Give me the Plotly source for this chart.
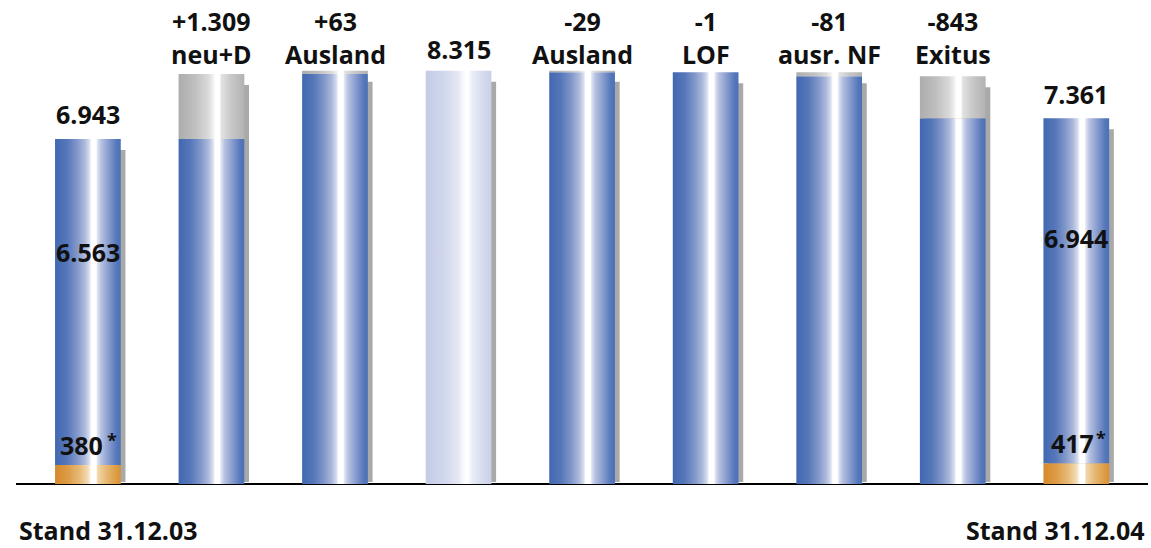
import plotly.graph_objects as go

# ---- data -------------------------------------------------------------
start_label = "Stand 31.12.03"
end_label = "Stand 31.12.04"
start_total = 6943
start_part = 380          # starred sub-group at the start
end_total = 7361
end_part = 417            # starred sub-group at the end

step_names = ["neu+D", "Ausland", None, "Ausland", "LOF", "ausr. NF", "Exitus"]
step_changes = [1309, 63, None, -29, -1, -81, -843]   # None = interim total

# ---- styling ----------------------------------------------------------
FONT = "Open Sans"
BAR_W = 0.532
PX_PER_UNIT = 0.0497              # vertical scale (pixels per value unit)
PX_PER_CAT = 123.55               # horizontal scale (pixels per category)
SHADOW_DX = 4.7 / PX_PER_CAT
SHADOW_DY = 11 / PX_PER_UNIT
SHADOW_BOTTOM = 2 / PX_PER_UNIT
SHADOW_COLOR = "#a9a9a9"

BLUE = [[0.0, "#4168b1"], [0.18, "#5677b9"], [0.33, "#7f96c9"], [0.45, "#abb8db"],
        [0.52, "#d5dcee"], [0.555, "#ffffff"], [0.625, "#ffffff"], [0.645, "#e0e5f3"],
        [0.70, "#b7c2e1"], [0.82, "#869bce"], [0.94, "#5577ba"], [1.0, "#4c71b7"]]
GREY = [[0.0, "#adadad"], [0.25, "#bfbfbf"], [0.45, "#dadada"], [0.53, "#f2f2f2"],
        [0.555, "#ffffff"], [0.625, "#ffffff"], [0.65, "#e2e2e2"], [0.8, "#c8c8c8"],
        [1.0, "#b2b2b2"]]
ORANGE = [[0.0, "#d5892b"], [0.2, "#dd9c48"], [0.38, "#e8bb7a"], [0.5, "#f3dbb4"],
          [0.555, "#ffffff"], [0.625, "#ffffff"], [0.65, "#f1d7ab"], [0.8, "#e5b46c"],
          [1.0, "#d8902f"]]
PALE = [[0.0, "#c3cbe6"], [0.3, "#d2d8ed"], [0.5, "#e6e9f5"], [0.58, "#fbfbfd"],
        [0.64, "#ffffff"], [0.7, "#eceff7"], [0.85, "#d8ddef"], [1.0, "#c8d0ea"]]


def fmt(v, signed=False):
    s = f"{abs(v):,}".replace(",", ".")
    if signed:
        return ("+" if v > 0 else "-") + s
    return s


fig = go.Figure()
shadows = []
faces = []


def add_rect(target, xc, y0, y1, colorscale=None, color=None, dx=0.0):
    x0 = xc - BAR_W / 2 + dx
    x1 = xc + BAR_W / 2 + dx
    tr = dict(x=[x0, x1, x1, x0, x0], y=[y0, y0, y1, y1, y0],
              mode="lines", fill="toself", line=dict(width=0, color="rgba(0,0,0,0)"),
              hoverinfo="skip", showlegend=False)
    if colorscale is not None:
        tr["fillgradient"] = dict(type="horizontal", colorscale=colorscale, start=x0, stop=x1)
    else:
        tr["fillcolor"] = color
    target.append(go.Scatter(**tr))


annotations = []


def label(x, y, text, yshift, xshift=0, size=25):
    annotations.append(dict(x=x, y=y, xref="x", yref="y", text=text, showarrow=False,
                            xanchor="center", yanchor="middle", yshift=yshift, xshift=xshift,
                            font=dict(family=FONT, size=size, color="#111111", weight="bold")))


def starred(x, y, value, num_dx, star_dx):
    # number plus a small raised asterisk footnote marker
    label(x, y, fmt(value), 20, xshift=num_dx)
    label(x, y, "*", 25, xshift=star_dx, size=18)


# first column: start total
idx = 0
add_rect(shadows, idx, SHADOW_BOTTOM, start_total - SHADOW_DY, color=SHADOW_COLOR, dx=SHADOW_DX)
add_rect(faces, idx, 0, start_part, ORANGE)
add_rect(faces, idx, start_part, start_total, BLUE)
label(idx, start_total, fmt(start_total), 24.5)
label(idx, start_total * 2 / 3, fmt(start_total - start_part), 2)
starred(idx, start_part, start_part, -6, 24)

# intermediate steps
running = start_total
peak = start_total
for name, ch in zip(step_names, step_changes):
    if ch is not None:
        running += ch
        peak = max(peak, running)
running = start_total
for i, (name, ch) in enumerate(zip(step_names, step_changes)):
    idx = i + 1
    if ch is None:
        top = running
        add_rect(shadows, idx, SHADOW_BOTTOM, top - SHADOW_DY, color=SHADOW_COLOR, dx=SHADOW_DX)
        add_rect(faces, idx, 0, top, PALE)
        label(idx, peak, fmt(top), 22)
        continue
    new = running + ch
    low, high = min(running, new), max(running, new)
    add_rect(shadows, idx, SHADOW_BOTTOM, high - SHADOW_DY, color=SHADOW_COLOR, dx=SHADOW_DX)
    add_rect(faces, idx, 0, low, BLUE)
    add_rect(faces, idx, low, high, GREY)
    label(idx, peak, fmt(ch, signed=True) + "<br>" + name, 33)
    running = new

# last column: end total
idx = len(step_names) + 1
add_rect(shadows, idx, SHADOW_BOTTOM, end_total - SHADOW_DY, color=SHADOW_COLOR, dx=SHADOW_DX)
add_rect(faces, idx, 0, end_part, ORANGE)
add_rect(faces, idx, end_part, end_total, BLUE)
label(idx, end_total, fmt(end_total), 24.5)
label(idx, end_total * 2 / 3, fmt(end_total - end_part), 2)
starred(idx, end_part, end_part, -4, 25)

# date captions below the axis
label(0, 0, start_label, -46, xshift=21)
label(idx, 0, end_label, -46, xshift=-21)

for t in shadows + faces:
    fig.add_trace(t)

W, H = 1151, 548
ML, MR = 16, 3
first_px = 87.9
x_lo = (ML - first_px) / PX_PER_CAT
x_hi = (W - MR - first_px) / PX_PER_CAT
base_px = 484
y_lo = -(H - base_px) / PX_PER_UNIT
y_hi = base_px / PX_PER_UNIT

fig.update_layout(
    width=W, height=H,
    margin=dict(l=ML, r=MR, t=0, b=0),
    paper_bgcolor="white", plot_bgcolor="white",
    xaxis=dict(range=[x_lo, x_hi], visible=False, fixedrange=True),
    yaxis=dict(range=[y_lo, y_hi], showgrid=False, showticklabels=False, ticks="",
               zeroline=True, zerolinecolor="#000000", zerolinewidth=2.2,
               showline=False, fixedrange=True),
    annotations=annotations,
    showlegend=False,
)

fig.write_html("out.html", config={"displayModeBar": False})
